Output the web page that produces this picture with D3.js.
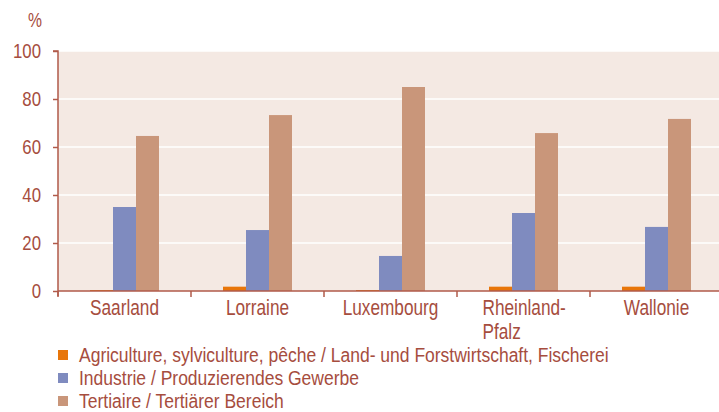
<!DOCTYPE html>
<html><head><meta charset="utf-8">
<script src="https://cdn.jsdelivr.net/npm/d3@7"></script>
<style>
body{margin:0;background:#fff;}
text{font-family:"Liberation Sans",Arial,sans-serif;fill:#a64d3e;}
</style></head>
<body><svg id="c" width="719" height="412"></svg>
<script>
const categories = ["Saarland","Lorraine","Luxembourg","Rheinland-\nPfalz","Wallonie"];
const seriesNames = ["Agriculture, sylviculture, pêche / Land- und Forstwirtschaft, Fischerei","Industrie / Produzierendes Gewerbe","Tertiaire / Tertiärer Bereich"];
const agriculture = [0.4, 1.8, 0.4, 1.8, 1.8];
const industrie = [35.0, 25.4, 14.6, 32.5, 26.7];
const tertiaire = [64.6, 73.3, 85.0, 65.8, 71.7];
const yTicks = [0,20,40,60,80,100];
const colors = ["#e8760a","#7f8bbf","#c9967a"];

const series = [agriculture, industrie, tertiaire];
const svg = d3.select("#c");
const m = {l:58, r:723, t:51, b:291};
const x = d3.scaleBand().domain(categories).range([m.l, m.r]).paddingInner(0).paddingOuter(0);
const xs = d3.scaleBand().domain([0,1,2]).range([0, 69]);
const y = d3.scaleLinear().domain([0,100]).range([m.b, m.t]);

// measure a sample string to derive a condensing factor
function condense(size, sample, target) {
  const t = svg.append("text").attr("font-size", size).text(sample);
  const w = t.node().getComputedTextLength();
  t.remove();
  return target / w;
}
function ctext(parent, tx, ty, size, sx, str, anchor) {
  const g = parent.append("g").attr("transform", `translate(${tx},${ty}) scale(${sx},1)`);
  return g.append("text").attr("font-size", size).attr("text-anchor", anchor || "start").text(str);
}

svg.append("rect").attr("x", m.l).attr("y", m.t).attr("width", 719-m.l).attr("height", m.b-m.t).attr("fill", "#f4e9e3");
svg.append("g").selectAll("line").data(yTicks.filter(d=>d>0)).join("line")
  .attr("x1", m.l).attr("x2", 719).attr("y1", d=>y(d)).attr("y2", d=>y(d))
  .attr("stroke", "#fff").attr("stroke-width", 1.5);

categories.forEach((c, i) => {
  const cx = x(c) + x.bandwidth()/2 - 34.5;
  series.forEach((s, j) => {
    svg.append("rect").attr("x", cx + xs(j)).attr("width", xs.bandwidth())
      .attr("y", y(s[i])).attr("height", y(0) - y(s[i])).attr("fill", colors[j]);
  });
});

// y axis
const yAxis = svg.append("g").attr("transform", `translate(${m.l},0)`)
  .call(d3.axisLeft(y).tickValues(yTicks).tickSize(5).tickFormat(""));
yAxis.select(".domain").attr("stroke", "#b05a4a").attr("stroke-width", 1.5).attr("d", `M-5,${m.t}H0V${m.b+5}`);
yAxis.selectAll(".tick line").attr("stroke", "#b05a4a").attr("stroke-width", 1.5);
const sxY = condense(19.5, "100", 28);
yTicks.forEach(v => ctext(svg, 41, y(v) + 7, 19.5, sxY, String(v), "end"));

// x axis
const xAxis = svg.append("g").attr("transform", `translate(0,${m.b})`);
xAxis.append("line").attr("x1", m.l).attr("x2", 719).attr("stroke", "#b05a4a").attr("stroke-width", 1.5);
xAxis.selectAll("line.t").data(categories).join("line").attr("class","t")
  .attr("x1", d=>x(d)).attr("x2", d=>x(d)).attr("y1", 0).attr("y2", 6)
  .attr("stroke", "#b05a4a").attr("stroke-width", 1.5);
const sxX = condense(22, "Saarland", 69);
categories.forEach(c => {
  const parts = c.split("\n");
  const cxm = x(c)+x.bandwidth()/2;
  if (parts.length > 1) {
    parts.forEach((p, k) => ctext(xAxis, cxm - 41, 24 + k*24, 22, sxX, p, "start"));
  } else ctext(xAxis, cxm, 24, 22, sxX, c, "middle");
});

ctext(svg, 28, 27, 20, condense(20, "%", 14), "%", "start");

// legend
const lg = svg.append("g");
const sxL = condense(20, seriesNames[0], 530);
seriesNames.forEach((n, i) => {
  const yy = 355 + i*23;
  lg.append("rect").attr("x", 58).attr("y", yy-5).attr("width", 10).attr("height", 10).attr("fill", colors[i]);
  ctext(lg, 79, yy+6.5, 20, sxL, n, "start");
});
</script></body></html>
